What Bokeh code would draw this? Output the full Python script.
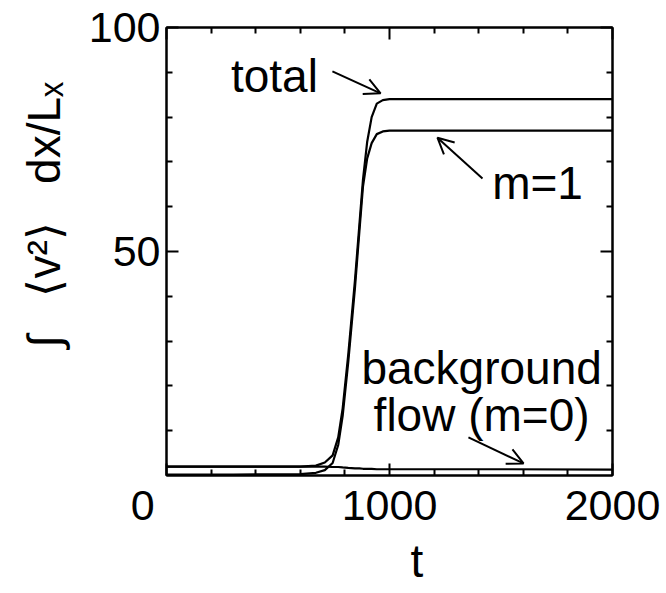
from bokeh.plotting import figure
from bokeh.models import (Range1d, FixedTicker, LinearAxis, Arrow, OpenHead, Label, Title,
                          ColumnDataSource)
from bokeh.embed import file_html
from bokeh.resources import INLINE

# ---------------- data ----------------
t_vals = [0, 300, 600, 670, 710, 745, 770, 790, 815, 845, 865, 881, 900, 920, 943, 970, 1000, 1500, 2000]
total_vals = [2.0, 2.0, 2.0, 2.2, 2.9, 4.5, 8.5, 15.0, 27.0, 43.5, 56.0, 66.0, 74.5, 80.0, 83.0, 83.8, 84.0, 84.0, 84.0]
m1_vals = [0.2, 0.2, 0.3, 0.6, 1.2, 2.8, 6.8, 13.3, 25.3, 41.8, 54.5, 64.5, 70.8, 74.2, 76.2, 76.8, 77.0, 77.0, 77.0]
m0_vals = [2.0, 2.0, 2.0, 2.0, 2.0, 1.9, 1.9, 1.8, 1.7, 1.6, 1.6, 1.5, 1.5, 1.5, 1.4, 1.4, 1.4, 1.4, 1.3]

x_major = [0, 1000, 2000]
x_minor = [200, 400, 600, 800, 1200, 1400, 1600, 1800]
y_major = [50, 100]
y_minor = [10, 20, 30, 40, 60, 70, 80, 90]
x_tick_labels = {0: "0\u00a0\u00a0\u00a0\u00a0", 1000: "1000", 2000: "2000"}
y_tick_labels = {50: "50", 100: "100"}
x_title = "t"
y_title = "∫\u00a0\u00a0\u00a0⟨v²⟩\u00a0\u00a0\u00a0dx/Lₓ"

FONT = "Liberation Sans"

src = ColumnDataSource(dict(t=t_vals, total=total_vals, m1=m1_vals, m0=m0_vals))

p = figure(width=666, height=593, x_range=Range1d(0, 2000), y_range=Range1d(0, 100),
           output_backend="svg", toolbar_location=None,
           min_border_left=166, min_border_right=54, min_border_top=27, min_border_bottom=118)
p.xgrid.visible = False
p.ygrid.visible = False
p.outline_line_color = "black"
p.outline_line_width = 2
p.background_fill_color = "white"
p.border_fill_color = "white"


def style_axis(ax, major, minor, overrides, labels=True):
    ax.ticker = FixedTicker(ticks=major, minor_ticks=minor)
    ax.axis_line_width = 2
    ax.axis_line_color = "black"
    ax.major_tick_in = 12
    ax.major_tick_out = 0
    ax.minor_tick_in = 6
    ax.minor_tick_out = 0
    ax.major_tick_line_width = 2
    ax.minor_tick_line_width = 2
    ax.major_tick_line_color = "black"
    ax.minor_tick_line_color = "black"
    if labels:
        ax.major_label_overrides = overrides
        ax.major_label_text_font = FONT
        ax.major_label_text_font_size = "43px"
        ax.major_label_text_color = "black"
    else:
        ax.major_label_text_color = None


style_axis(p.xaxis[0], x_major, x_minor, x_tick_labels)
p.xaxis[0].major_label_standoff = 5
style_axis(p.yaxis[0], y_major, y_minor, y_tick_labels)
p.yaxis[0].major_label_standoff = 6

top_ax = LinearAxis()
style_axis(top_ax, x_major, x_minor, None, labels=False)
p.add_layout(top_ax, "above")
right_ax = LinearAxis()
style_axis(right_ax, y_major, y_minor, None, labels=False)
p.add_layout(right_ax, "right")

# axis titles (placed as titles so they can be offset like in the reference)
p.add_layout(Title(text=x_title, align="left", offset=244, standoff=7, vertical_align="top",
                   text_font=FONT, text_font_size="46px", text_font_style="normal",
                   text_color="black"), "below")
p.add_layout(Title(text=y_title, align="left", offset=128, standoff=31, vertical_align="bottom",
                   text_font=FONT, text_font_size="46px", text_font_style="normal",
                   text_color="black"), "left")

# ---------------- curves ----------------
p.line("t", "total", source=src, line_color="black", line_width=2.2)
p.line("t", "m1", source=src, line_color="black", line_width=2.2)
p.line("t", "m0", source=src, line_color="black", line_width=2.2)


# ---------------- annotations ----------------
def lab(x, y, text, size="46px"):
    p.add_layout(Label(x=x, y=y, text=text, text_font=FONT, text_font_size=size,
                       text_align="center", text_baseline="alphabetic", text_color="black",
                       y_offset=16))


lab(484, 85.5, "total")
lab(1664, 61.8, "m=1")
lab(1413, 20.5, "background")
lab(1413, 10.0, "flow (m=0)")


def arrow(x0, y0, x1, y1):
    p.add_layout(Arrow(end=OpenHead(size=16, line_width=2, line_color="black"),
                       x_start=x0, y_start=y0, x_end=x1, y_end=y1,
                       line_width=2, line_color="black"))


arrow(744, 90.2, 960, 85.3)
arrow(1417, 66.3, 1215, 75.4)
arrow(1354, 8.5, 1601, 2.7)

open("out.html", "w").write(file_html(p, INLINE))
